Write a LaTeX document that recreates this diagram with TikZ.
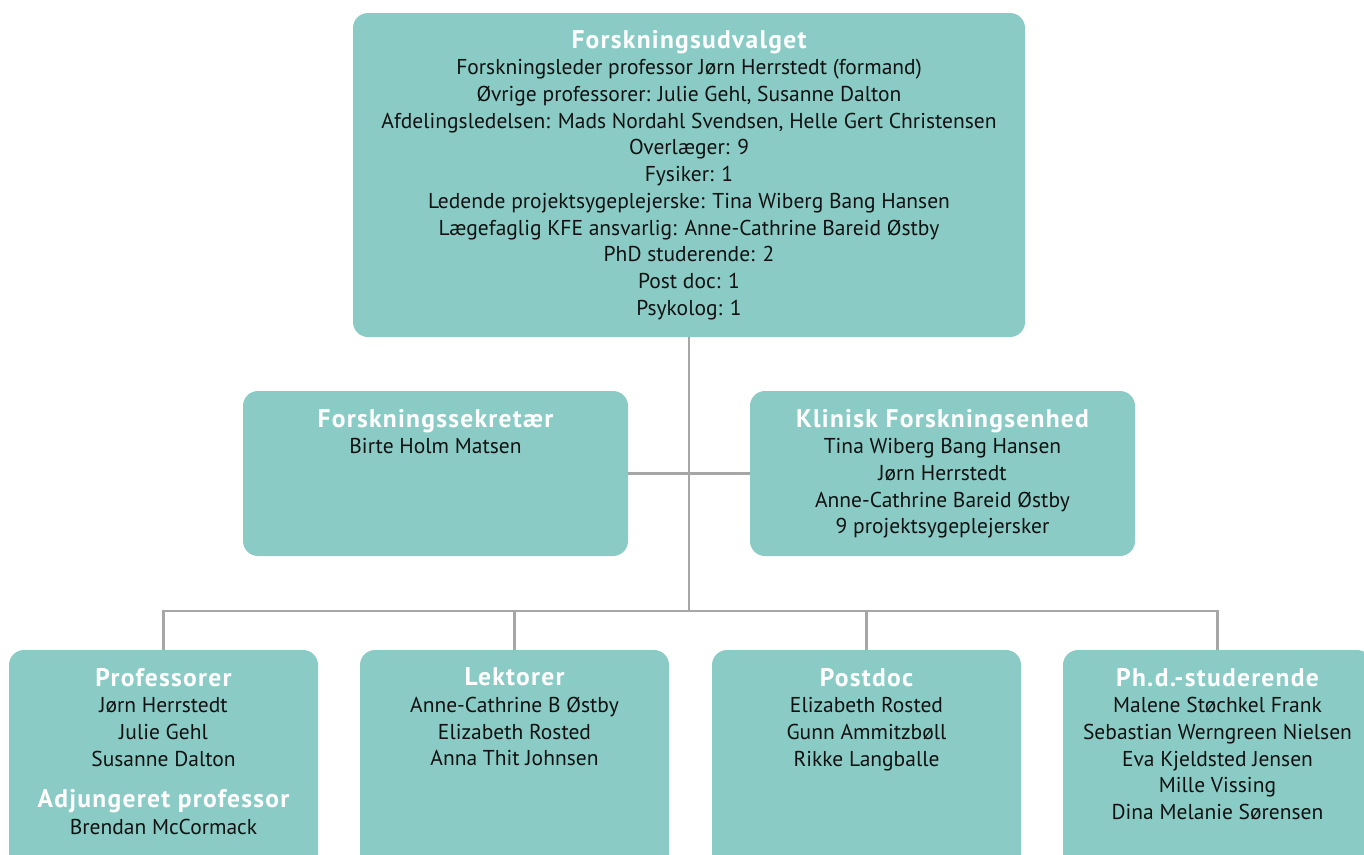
\documentclass[tikz,border=0pt]{standalone}
\usepackage{fontspec}
\setmainfont{PT Sans}
\newfontfamily\orgtitlefont[LetterSpace=5]{PT Sans}
\usetikzlibrary{calc}
\usetikzlibrary{positioning}

\definecolor{orgteal}{HTML}{8ACCC5}
\definecolor{orgline}{HTML}{A6A6A6}
\definecolor{orgtext}{HTML}{111111}

\newcommand{\orgtitle}[1]{{\orgtitlefont\fontsize{25.5}{28}\selectfont\bfseries\color{white}#1}}
\newcommand{\orgbody}[3]{\parbox[c][#1][t]{#2}{\centering\fontsize{21.5}{26.7}\selectfont\color{orgtext}#3}}

\tikzset{
  orgbox/.style={fill=orgteal, rounded corners=15pt, inner sep=0pt,
    anchor=north west, outer sep=0pt},
  conn/.style={draw=orgline, line width=2.6pt}
}

\begin{document}
\begin{tikzpicture}[x=1pt, y=-1pt]
  \useasboundingbox (0,0) rectangle (1364,854);
  \clip (0,0) rectangle (1364,854);

  % top committee
  \node [orgbox] (udvalg) at (353,13) {\orgbody{324pt}{672pt}{\vspace*{17pt}%
    \orgtitle{Forskningsudvalget}\\
    Forskningsleder professor Jørn Herrstedt (formand)\\
    Øvrige professorer: Julie Gehl, Susanne Dalton\\
    Afdelingsledelsen: Mads Nordahl Svendsen, Helle Gert Christensen\\
    Overlæger: 9\\
    Fysiker: 1\\
    Ledende projektsygeplejerske: Tina Wiberg Bang Hansen\\
    Lægefaglig KFE ansvarlig: Anne-Cathrine Bareid Østby\\
    PhD studerende: 2\\
    Post doc: 1\\
    Psykolog: 1}};

  % middle row
  \node [orgbox] (sekr) at (243,391) {\orgbody{165pt}{385pt}{\vspace*{18pt}%
    \orgtitle{Forskningssekretær}\\
    Birte Holm Matsen}};
  \node [orgbox] (kfe) at (750,391) {\orgbody{165pt}{385pt}{\vspace*{18pt}%
    \orgtitle{Klinisk Forskningsenhed}\\
    Tina Wiberg Bang Hansen\\
    Jørn Herrstedt\\
    Anne-Cathrine Bareid Østby\\
    9 projektsygeplejersker}};

  % bottom row
  \node [orgbox] (prof) at (9,650) {\orgbody{240pt}{309pt}{\vspace*{18pt}%
    \orgtitle{Professorer}\\
    Jørn Herrstedt\\
    Julie Gehl\\
    Susanne Dalton\\[15pt]
    \orgtitle{Adjungeret professor}\\
    Brendan McCormack}};
  \node [orgbox] (lekt) at (360,650) {\orgbody{240pt}{309pt}{\vspace*{18pt}%
    \orgtitle{Lektorer}\\
    Anne-Cathrine B Østby\\
    Elizabeth Rosted\\
    Anna Thit Johnsen}};
  \node [orgbox] (postdoc) at (712,650) {\orgbody{240pt}{309pt}{\vspace*{18pt}%
    \orgtitle{Postdoc}\\
    Elizabeth Rosted\\
    Gunn Ammitzbøll\\
    Rikke Langballe}};
  \node [orgbox] (phd) at (1063,650) {\orgbody{240pt}{309pt}{\vspace*{18pt}%
    \orgtitle{Ph.d.-studerende}\\
    Malene Støchkel Frank\\
    Sebastian Werngreen Nielsen\\
    Eva Kjeldsted Jensen\\
    Mille Vissing\\
    Dina Melanie Sørensen}};

  \coordinate (bus) at (udvalg.south |- 0,611);

  \draw [conn] (udvalg.south) -- (bus);
  \draw [conn] (sekr) -- (kfe);
  \draw [conn] (prof.north) |- (bus) -| (phd.north);
  \foreach \n in {lekt,postdoc}
    \draw [conn] (\n.north) -- (\n.north |- bus);

\end{tikzpicture}
\end{document}
